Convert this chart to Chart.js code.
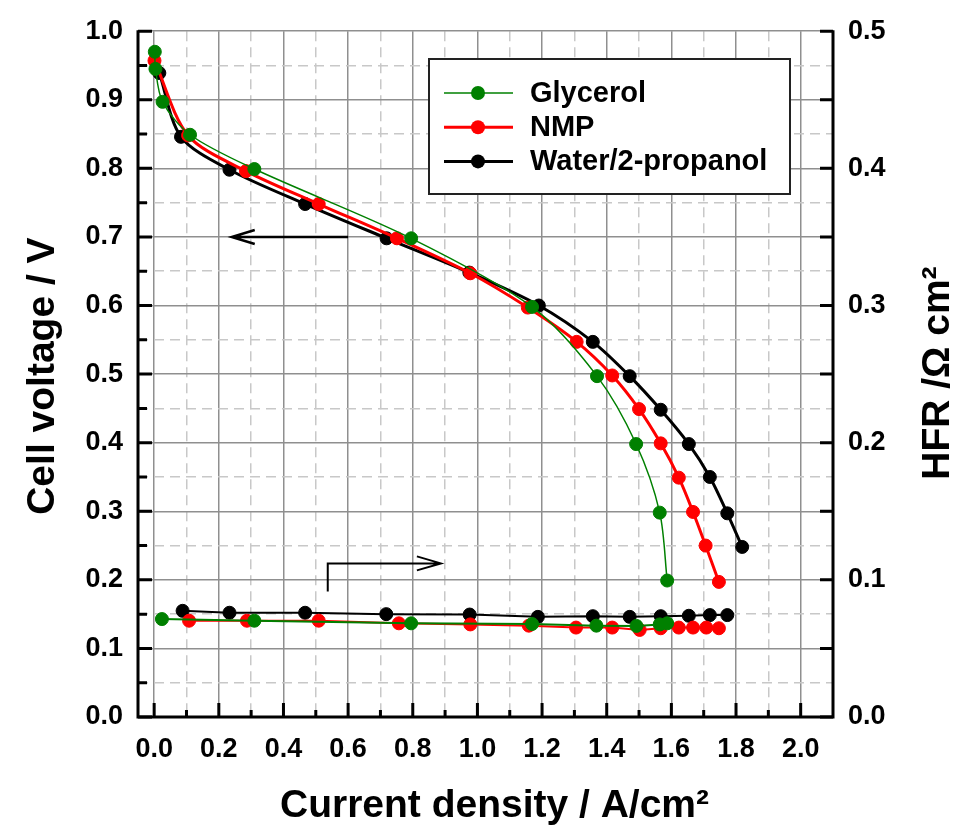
<!DOCTYPE html>
<html>
<head>
<meta charset="utf-8">
<script src="https://cdn.jsdelivr.net/npm/chart.js@4.4.1/dist/chart.umd.min.js"></script>
<style>
    body { margin: 0; background: #fff; }
    #wrap { width: 973px; height: 835px; }
</style>
</head>
<body>
<div id="wrap"><canvas id="chart1" width="973" height="835"></canvas></div>
<script>
// polarization curves: current density (A/cm2) vs cell voltage (V)
const glyX = [0.002, 0.004, 0.026, 0.111, 0.310, 0.795, 1.169, 1.370, 1.491, 1.564, 1.587];
const glyV = [0.970, 0.945, 0.897, 0.849, 0.799, 0.698, 0.598, 0.497, 0.398, 0.298, 0.199];
const nmpX = [0.001, 0.105, 0.284, 0.509, 0.751, 0.978, 1.156, 1.307, 1.417, 1.500, 1.567, 1.623, 1.667, 1.706, 1.747];
const nmpV = [0.957, 0.848, 0.796, 0.748, 0.698, 0.647, 0.597, 0.547, 0.498, 0.449, 0.399, 0.349, 0.299, 0.250, 0.197];
const watX = [0.016, 0.083, 0.233, 0.467, 0.719, 0.975, 1.190, 1.357, 1.471, 1.567, 1.654, 1.719, 1.773, 1.819];
const watV = [0.939, 0.846, 0.798, 0.748, 0.698, 0.648, 0.600, 0.547, 0.497, 0.448, 0.398, 0.350, 0.297, 0.248];

// HFR (Ohm cm2), right axis
const glyHX = [0.024, 0.310, 0.795, 1.169, 1.368, 1.492, 1.564, 1.587];
const glyH = [0.0714, 0.0702, 0.0683, 0.0678, 0.0666, 0.0664, 0.0675, 0.0683];
const nmpHX = [0.108, 0.287, 0.509, 0.757, 0.978, 1.159, 1.305, 1.417, 1.502, 1.567, 1.623, 1.667, 1.708, 1.747];
const nmpH = [0.0702, 0.0702, 0.0702, 0.0683, 0.0675, 0.0666, 0.0652, 0.0652, 0.0635, 0.0647, 0.0652, 0.0652, 0.0652, 0.0647];
const watHX = [0.088, 0.233, 0.467, 0.718, 0.976, 1.187, 1.357, 1.471, 1.567, 1.654, 1.719, 1.773];
const watH = [0.0774, 0.0760, 0.0760, 0.0750, 0.0747, 0.0730, 0.0735, 0.0730, 0.0735, 0.0738, 0.0743, 0.0743];

const seriesNames = ['Glycerol', 'NMP', 'Water/2-propanol'];

// tick values
const xTicks = [0.0, 0.1, 0.2, 0.3, 0.4, 0.5, 0.6, 0.7, 0.8, 0.9, 1.0, 1.1, 1.2, 1.3, 1.4, 1.5, 1.6, 1.7, 1.8, 1.9, 2.0];
const vTicks = [0, 0.05, 0.1, 0.15, 0.2, 0.25, 0.3, 0.35, 0.4, 0.45, 0.5, 0.55, 0.6, 0.65, 0.7, 0.75, 0.8, 0.85, 0.9, 0.95, 1.0];
const hfrTicks = [0, 0.05, 0.1, 0.15, 0.2, 0.25, 0.3, 0.35, 0.4, 0.45, 0.5];

const FONT = '"Liberation Sans", Arial, Helvetica, sans-serif';
const GREEN = '#008000';
const RED = '#ff0000';
const BLACK = '#000000';

function pts(xs, ys) {
    return xs.map((x, i) => ({ x: x, y: ys[i] }));
}
function isMajor(v, step) {
    return Math.abs(Math.round(v / step) * step - v) < 1e-6;
}

// axis lines + inward tick marks
const frame = {
    id: 'frame',
    beforeDatasetsDraw(chart) {
        const ctx = chart.ctx;
        const a = chart.chartArea;
        const sx = chart.scales.x, sy = chart.scales.y, sy2 = chart.scales.y2;
        ctx.save();
        ctx.strokeStyle = '#000';
        ctx.lineWidth = 3;
        ctx.beginPath();
        xTicks.forEach(v => {
            const p = sx.getPixelForValue(v);
            ctx.moveTo(p, a.bottom);
            ctx.lineTo(p, a.bottom - (isMajor(v, 0.2) ? 14 : 7));
        });
        vTicks.forEach(v => {
            const p = sy.getPixelForValue(v);
            ctx.moveTo(a.left, p);
            ctx.lineTo(a.left + (isMajor(v, 0.1) ? 14 : 9), p);
        });
        hfrTicks.forEach(v => {
            const p = sy2.getPixelForValue(v);
            ctx.moveTo(a.right, p);
            ctx.lineTo(a.right - 13, p);
        });
        ctx.stroke();
        ctx.beginPath();
        ctx.moveTo(a.left, a.top - 1);
        ctx.lineTo(a.left, a.bottom);
        ctx.lineTo(a.right, a.bottom);
        ctx.lineTo(a.right, a.top - 1);
        ctx.stroke();
        ctx.restore();
    }
};

// arrows pointing to the axis each curve family belongs to
const arrows = {
    id: 'arrows',
    afterDatasetsDraw(chart) {
        const ctx = chart.ctx;
        const sx = chart.scales.x, sy = chart.scales.y;
        ctx.save();
        ctx.strokeStyle = '#000';
        // left arrow -> voltage axis
        let x1 = sx.getPixelForValue(0.60), x0 = sx.getPixelForValue(0.24), yy = sy.getPixelForValue(0.70);
        ctx.lineWidth = 2.5;
        ctx.beginPath();
        ctx.moveTo(x1, yy);
        ctx.lineTo(x0, yy);
        ctx.moveTo(x0 + 23, yy - 7);
        ctx.lineTo(x0, yy);
        ctx.lineTo(x0 + 23, yy + 7);
        ctx.stroke();
        // bent arrow -> HFR axis
        const bx = sx.getPixelForValue(0.537), by0 = sy.getPixelForValue(0.183), by1 = sy.getPixelForValue(0.224);
        const ex = sx.getPixelForValue(0.887);
        ctx.lineWidth = 2;
        ctx.beginPath();
        ctx.moveTo(bx, by0);
        ctx.lineTo(bx, by1);
        ctx.lineTo(ex, by1);
        ctx.moveTo(ex - 24, by1 - 7);
        ctx.lineTo(ex, by1);
        ctx.lineTo(ex - 24, by1 + 7);
        ctx.stroke();
        ctx.restore();
    }
};

// legend box and axis titles
const labels = {
    id: 'labels',
    afterDraw(chart) {
        const ctx = chart.ctx;
        const a = chart.chartArea;
        ctx.save();
        // legend
        ctx.fillStyle = '#fff';
        ctx.fillRect(429, 59, 361, 135);
        ctx.strokeStyle = '#222';
        ctx.lineWidth = 2;
        ctx.strokeRect(429, 59, 361, 135);
        const cols = [GREEN, RED, BLACK];
        const widths = [1.5, 3, 3];
        ctx.font = 'bold 29px ' + FONT;
        ctx.textAlign = 'left';
        ctx.textBaseline = 'middle';
        seriesNames.forEach((name, i) => {
            const ry = 93 + i * 34.2;
            ctx.strokeStyle = cols[i];
            ctx.lineWidth = widths[i];
            ctx.beginPath();
            ctx.moveTo(444, ry);
            ctx.lineTo(513, ry);
            ctx.stroke();
            ctx.fillStyle = cols[i];
            ctx.beginPath();
            ctx.arc(478, ry, 7, 0, Math.PI * 2);
            ctx.fill();
            ctx.fillStyle = '#000';
            ctx.fillText(name, 530, ry + 1);
        });
        // axis titles
        ctx.font = 'bold 39px ' + FONT;
        ctx.fillStyle = '#000';
        ctx.textAlign = 'center';
        ctx.textBaseline = 'alphabetic';
        ctx.fillText('Current density / A/cm\u00b2', (a.left + a.right) / 2 + 9, a.bottom + 100);
        ctx.save();
        ctx.translate(a.left - 84, (a.top + a.bottom) / 2 + 2);
        ctx.rotate(-Math.PI / 2);
        ctx.fillText('Cell voltage / V', 0, 0);
        ctx.restore();
        ctx.save();
        ctx.translate(a.right + 116, (a.top + a.bottom) / 2 - 1);
        ctx.rotate(-Math.PI / 2);
        ctx.fillText('HFR /\u03a9 cm\u00b2', 0, 0);
        ctx.restore();
        ctx.restore();
    }
};

function lineSet(label, data, color, width, axis) {
    return {
        label: label,
        data: data,
        yAxisID: axis,
        borderColor: color,
        backgroundColor: color,
        borderWidth: width,
        pointRadius: 6.5,
        pointBorderWidth: 1,
        pointBackgroundColor: color,
        pointBorderColor: color,
        tension: axis === 'y' ? 0.3 : 0
    };
}

const tickFont = { size: 27, weight: 'bold', family: FONT };

let grafica;
function crearGrafica() {
    const ctx = document.getElementById('chart1');
    const config = {
        type: 'line',
        data: {
            datasets: [
                lineSet(seriesNames[0], pts(glyX, glyV), GREEN, 1.5, 'y'),
                lineSet(seriesNames[1], pts(nmpX, nmpV), RED, 3, 'y'),
                lineSet(seriesNames[2], pts(watX, watV), BLACK, 3, 'y'),
                lineSet(seriesNames[0] + ' HFR', pts(glyHX, glyH), GREEN, 2, 'y2'),
                lineSet(seriesNames[1] + ' HFR', pts(nmpHX, nmpH), RED, 2, 'y2'),
                lineSet(seriesNames[2] + ' HFR', pts(watHX, watH), BLACK, 2, 'y2')
            ]
        },
        options: {
            responsive: false,
            animation: false,
            events: [],
            layout: { padding: { top: 19, left: 0, right: 0, bottom: 0 } },
            plugins: {
                legend: { display: false },
                tooltip: { enabled: false },
                title: { display: false }
            },
            scales: {
                x: {
                    type: 'linear',
                    min: -0.05,
                    max: 2.1,
                    afterBuildTicks: s => { s.ticks = xTicks.map(v => ({ value: v })); },
                    afterFit: s => { s.height = 118; },
                    ticks: {
                        autoSkip: false,
                        maxRotation: 0,
                        padding: 16,
                        color: '#000',
                        font: tickFont,
                        callback: v => isMajor(v, 0.2) ? v.toFixed(1) : ''
                    },
                    grid: {
                        drawTicks: false,
                        lineWidth: 1.5,
                        color: c => (c.tick && !isMajor(c.tick.value, 0.2)) ? '#c8c8c8' : '#8f8f8f'
                    },
                    border: {
                        display: false,
                        dash: c => (c.tick && !isMajor(c.tick.value, 0.2)) ? [10, 6] : []
                    }
                },
                y: {
                    type: 'linear',
                    position: 'left',
                    min: 0,
                    max: 1,
                    afterBuildTicks: s => { s.ticks = vTicks.map(v => ({ value: v })); },
                    afterFit: s => { s.width = 138; },
                    ticks: {
                        autoSkip: false,
                        padding: 15,
                        color: '#000',
                        font: tickFont,
                        callback: v => isMajor(v, 0.1) ? v.toFixed(1) : ''
                    },
                    grid: {
                        drawTicks: false,
                        lineWidth: 1.5,
                        color: c => (c.tick && !isMajor(c.tick.value, 0.1)) ? '#c8c8c8' : '#8f8f8f'
                    },
                    border: {
                        display: false,
                        dash: c => (c.tick && !isMajor(c.tick.value, 0.1)) ? [10, 6] : []
                    }
                },
                y2: {
                    type: 'linear',
                    position: 'right',
                    min: 0,
                    max: 0.5,
                    afterBuildTicks: s => { s.ticks = hfrTicks.filter(v => isMajor(v, 0.1)).map(v => ({ value: v })); },
                    afterFit: s => { s.width = 140; },
                    ticks: {
                        autoSkip: false,
                        padding: 15,
                        color: '#000',
                        font: tickFont,
                        callback: v => v.toFixed(1)
                    },
                    grid: { display: false, drawTicks: false },
                    border: { display: false }
                }
            }
        },
        plugins: [frame, arrows, labels]
    };
    if (grafica instanceof Chart) {
        grafica.destroy();
    }
    grafica = new Chart(ctx, config);
}

crearGrafica();
</script>
</body>
</html>
